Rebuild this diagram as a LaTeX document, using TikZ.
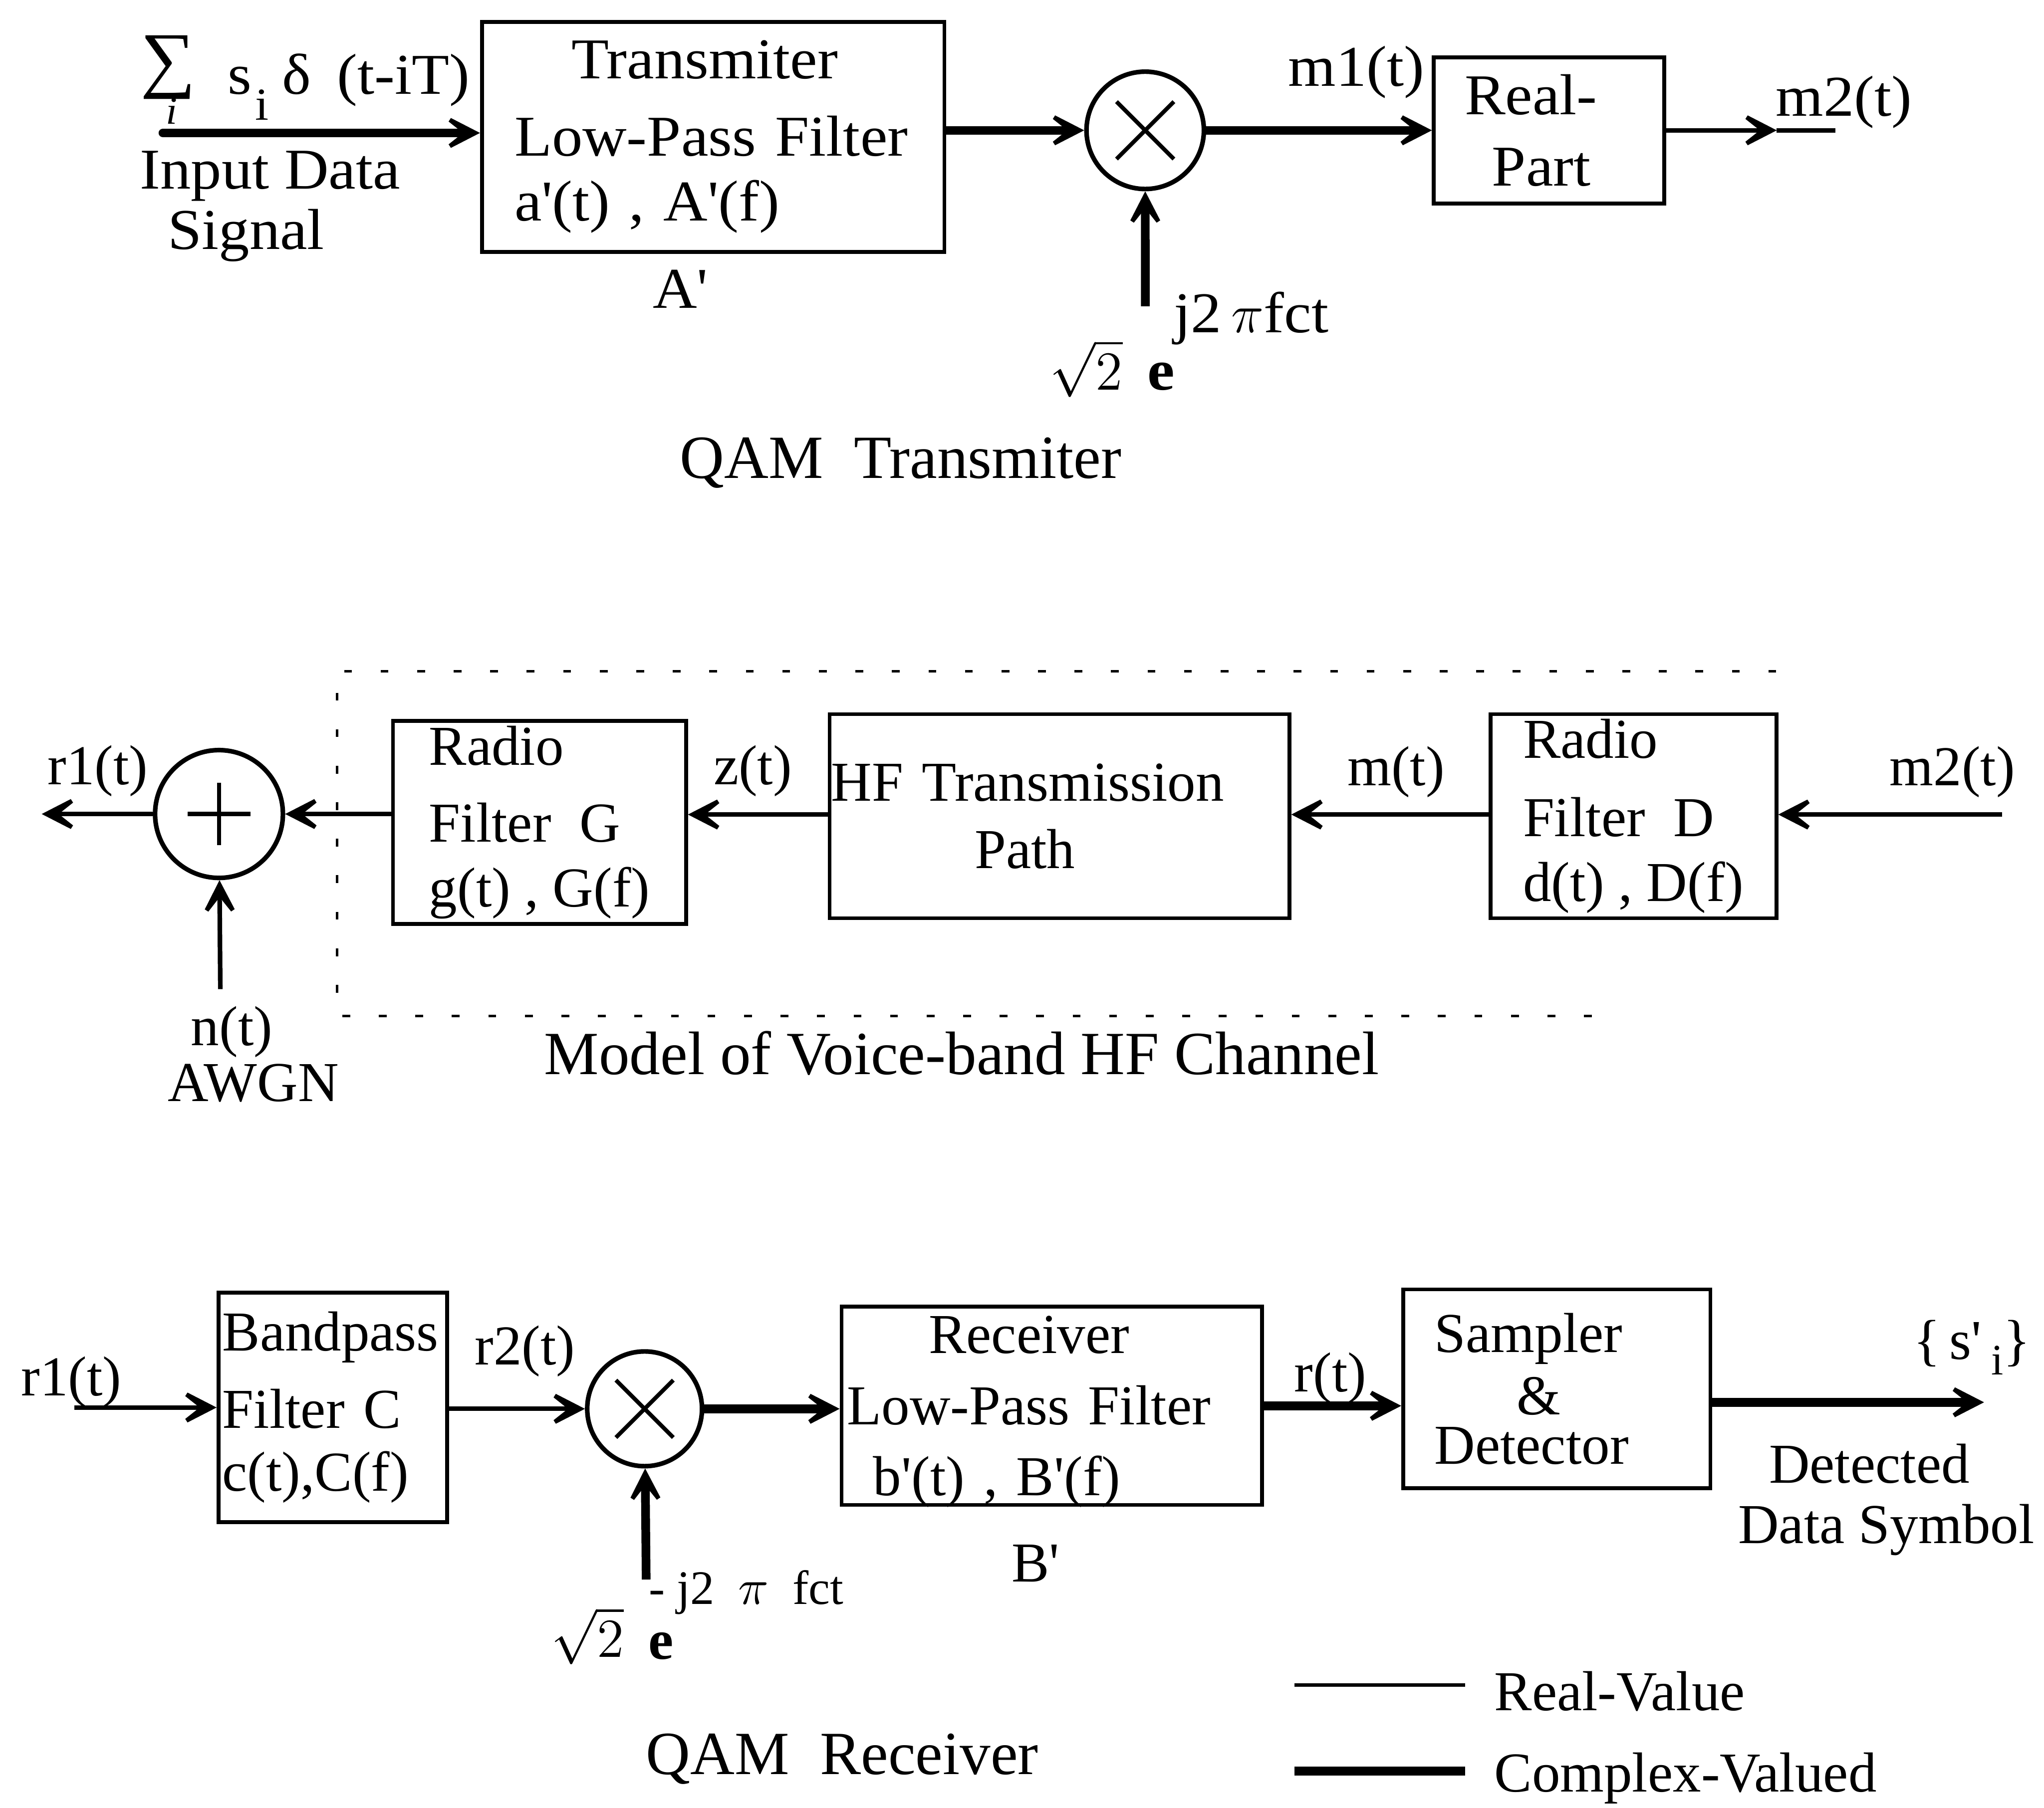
\documentclass[tikz,border=0pt]{standalone}
\usepackage{fontspec}
\setmainfont{Liberation Serif}
\newfontfamily\widefont[FakeStretch=1.06]{Liberation Serif}
\usetikzlibrary{arrows.meta}
\newcommand{\prm}{\textquotesingle}
\tikzstyle{block} = [rectangle, draw, line width=0.85pt, align=left, inner ysep=0pt]
\tikzstyle{mixer} = [circle, draw, line width=1pt, inner sep=0pt, path picture={\draw[line width=0.9pt] ([xshift=-0.22cm,yshift=-0.22cm]path picture bounding box.center) -- ([xshift=0.22cm,yshift=0.22cm]path picture bounding box.center) ([xshift=-0.22cm,yshift=0.22cm]path picture bounding box.center) -- ([xshift=0.22cm,yshift=-0.22cm]path picture bounding box.center);}]
\tikzstyle{adder} = [circle, draw, line width=1pt, inner sep=0pt, path picture={\draw[line width=0.9pt] ([xshift=-0.24cm]path picture bounding box.center) -- ([xshift=0.24cm]path picture bounding box.center) ([yshift=-0.24cm]path picture bounding box.center) -- ([yshift=0.24cm]path picture bounding box.center);}]
\tikzstyle{lbl} = [inner sep=0pt]
\tikzstyle{topfont} = [font=\widefont\fontsize{12.6}{15.5}\selectfont]
\tikzstyle{capt} = [inner sep=0pt, font=\fontsize{13.4}{16}\selectfont]
\tikzstyle{realline} = [line width=1pt, -{Stealth[length=0.37cm, width=0.38cm, inset=0.24cm]}]
\tikzstyle{cplxline} = [line width=1.9pt, -{Stealth[length=0.37cm, width=0.38cm, inset=0.24cm]}]
\tikzstyle{chanframe} = [line width=0.6pt, dash pattern=on 0.06cm off 0.22cm]

\begin{document}
\begin{tikzpicture}[x=0.01cm, y=-0.01cm, font=\fontsize{12.3}{15.5}\selectfont]
    \useasboundingbox (0,0) rectangle (1568,1387);

    % QAM transmitter
    \node (tlp) [block, topfont, inner xsep=0.25cm, text width=3.046cm, minimum height=1.765cm] at (547.1,105) {\hspace*{0.436cm}Transmiter\\[0.045cm]Low-Pass Filter\\[-0.045cm]a\prm(t) , A\prm(f)};
    \node (mix1) [mixer, minimum size=0.9cm] at (878.5,100) {};
    \node (re) [block, topfont, inner xsep=0.236cm, text width=1.293cm, minimum height=1.12cm] at (1188.25,100) {Real-\\\hspace*{0.21cm}Part};

    \node (sumop) [lbl, topfont, anchor=base west] at (107,64) {\fontsize{16}{16}\selectfont ∑};
    \node (sumidx) [lbl, topfont, anchor=base] at (131.7,95) {\fontsize{8.5}{8.5}\selectfont\itshape i};
    \node (sig) [lbl, topfont, anchor=base west] at (174,72) {s\hspace{0.03cm}\raisebox{-0.2cm}{\fontsize{10}{10}\selectfont i}\hspace{0.1cm}δ\hspace{0.2cm}(t-iT)};
    \node (inlbl) [lbl, topfont, anchor=base] at (207.2,144.7) {Input Data};
    \node (inlbl2) [lbl, topfont, anchor=base] at (188.8,191.3) {Signal};
    \node (aprime) [lbl, topfont, anchor=base] at (521.7,236.4) {A\prm};
    \node (m1lbl) [lbl, topfont, anchor=base] at (1040.5,66) {m1(t)};
    \node (m2lbl) [lbl, topfont, anchor=base] at (1414.5,89) {m2(t)};
    \node (sq1) [lbl, topfont, anchor=base west] at (804.7,299) {$\sqrt{2}$};
    \node (e1) [lbl, topfont, anchor=base west] at (879.7,299) {\textbf{e}};
    \node (ex1) [lbl, topfont, anchor=base west] at (900,255) {j2\,$\pi$fct};
    \node (qamtx) [capt, anchor=base west] at (521,367) {QAM\ \ Transmiter};

    \coordinate (src) at (125,102);
    \coordinate (osc1) at (878.6,235);
    \coordinate (m2tip) at (1363,100);
    \coordinate (m2end) at (1408,100);
    \draw [cplxline, line cap=round] (src) -- (tlp.west |- src);
    \draw [cplxline] (tlp.east |- mix1) -- (mix1);
    \draw [cplxline] (osc1) -- (mix1);
    \draw [cplxline] (mix1) -- (re);
    \draw [realline] (re) -- (m2tip);
    \draw [line width=1pt] (m2tip) -- (m2end);

    % voice-band HF channel
    \draw [chanframe] (1362.6,515) -- (258.5,515) -- (258.5,779.6) -- (1227.7,779.6);
    \node (add) [adder, minimum size=0.98cm] at (168,624.6) {};
    \node (rfg) [block, minimum width=2.247cm, minimum height=1.559cm] at (413.85,631.05) {Radio\\[0.045cm]Filter\ \ G\\[-0.045cm]g(t) , G(f)};
    \node (hf) [block, inner xsep=0.013cm, text width=3.499cm, minimum height=1.565cm] at (812.75,626.25) {HF Transmission\\[-0.03cm]\hspace*{1.1cm}Path};
    \node (rfd) [block, minimum width=2.191cm, minimum height=1.565cm] at (1253.05,626.25) {Radio\\[0.055cm]Filter\ \ D\\[-0.045cm]d(t) , D(f)};

    \node (r1lbl) [lbl, anchor=base] at (75,602) {r1(t)};
    \node (zlbl) [lbl, anchor=base] at (577.5,602) {z(t)};
    \node (mlbl) [lbl, anchor=base] at (1071,602.6) {m(t)};
    \node (m2lbl2) [lbl, anchor=base] at (1497.7,602.6) {m2(t)};
    \node (nlbl) [lbl, anchor=base] at (177.8,802) {n(t)};
    \node (awgn) [lbl, anchor=base] at (194.3,845) {AWGN};
    \node (chlbl) [capt, anchor=base west] at (416.9,824.3) {Model of Voice-band HF Channel};

    \coordinate (m2in) at (1536,625);
    \coordinate (r1out) at (32,624.6);
    \coordinate (noise) at (169,759);
    \draw [realline] (m2in) -- (rfd.east |- m2in);
    \draw [realline] (rfd.west |- m2in) -- (hf.east |- m2in);
    \draw [realline] (hf.west |- m2in) -- (rfg.east |- m2in);
    \draw [realline] (rfg.west |- add) -- (add);
    \draw [realline] (add) -- (r1out);
    \draw [realline] (noise) -- (add);

    % QAM receiver
    \node (bpf) [block, inner xsep=0.03cm, text width=1.691cm, minimum height=1.76cm] at (255.25,1080) {Bandpass\\[0.045cm]Filter C\\[-0.06cm]c(t),C(f)};
    \node (mix2) [mixer, minimum size=0.88cm] at (494.5,1081) {};
    \node (rlp) [block, inner xsep=0.043cm, text width=3.138cm, minimum height=1.52cm] at (806.9,1078.7) {\hspace*{0.626cm}Receiver\\Low-Pass Filter\\\hspace*{0.2cm}\smash{b\prm(t) , B\prm(f)}};
    \node (sd) [block, inner xsep=0.24cm, text width=1.875cm, minimum height=1.526cm] at (1194.25,1065.7) {Sampler\\[-0.065cm]\hspace*{0.63cm}\&\\[-0.165cm]Detector};

    \node (r1lbl2) [lbl, anchor=base] at (54.7,1071) {r1(t)};
    \node (r2lbl) [lbl, anchor=base] at (402.8,1047) {r2(t)};
    \node (sq2) [lbl, anchor=base west] at (422,1271.5) {$\sqrt{2}$};
    \node (e2) [lbl, anchor=base west] at (496.8,1273) {\textbf{e}};
    \node (ex2) [lbl, anchor=base west] at (497,1231) {\fontsize{10.5}{10.5}\selectfont - j2\ \ $\pi$\ \ fct};
    \node (bprime) [lbl, anchor=base] at (794.3,1213.8) {B\prm};
    \node (rlbl) [lbl, anchor=base] at (1020.6,1068) {r(t)};
    \node (symlbl) [lbl, anchor=base west] at (1467,1043) {\{\,s\prm\,\raisebox{-0.12cm}{\fontsize{9.5}{9.5}\selectfont i}\}};
    \node (det1) [lbl, anchor=base] at (1434,1137.8) {Detected};
    \node (det2) [lbl, anchor=base] at (1447,1184.3) {Data Symbol};
    \node (qamrx) [capt, anchor=base west] at (494.9,1361.4) {QAM\ \ Receiver};

    \coordinate (rxin) at (57,1080);
    \coordinate (osc2) at (495.7,1212);
    \coordinate (symout) at (1522,1076);
    \draw [realline] (rxin) -- (bpf.west |- rxin);
    \draw [realline] (bpf.east |- mix2) -- (mix2);
    \draw [cplxline] (osc2) -- (mix2);
    \draw [cplxline] (mix2) -- (rlp.west |- mix2);
    \draw [cplxline] (rlp.east) -- (rlp.east -| sd.west);
    \draw [cplxline] (sd.east |- symout) -- (symout);

    % legend
    \coordinate (lgA) at (993,1293);
    \coordinate (lgB) at (1124,1293);
    \coordinate (lgC) at (993,1359);
    \coordinate (lgD) at (1124,1359);
    \draw [line width=0.75pt] (lgA) -- (lgB);
    \draw [line width=1.9pt] (lgC) -- (lgD);
    \node (lgreal) [lbl, anchor=base west] at (1145.7,1312.5) {Real-Value};
    \node (lgcplx) [lbl, anchor=base west] at (1145.7,1375) {Complex-Valued};
\end{tikzpicture}
\end{document}
